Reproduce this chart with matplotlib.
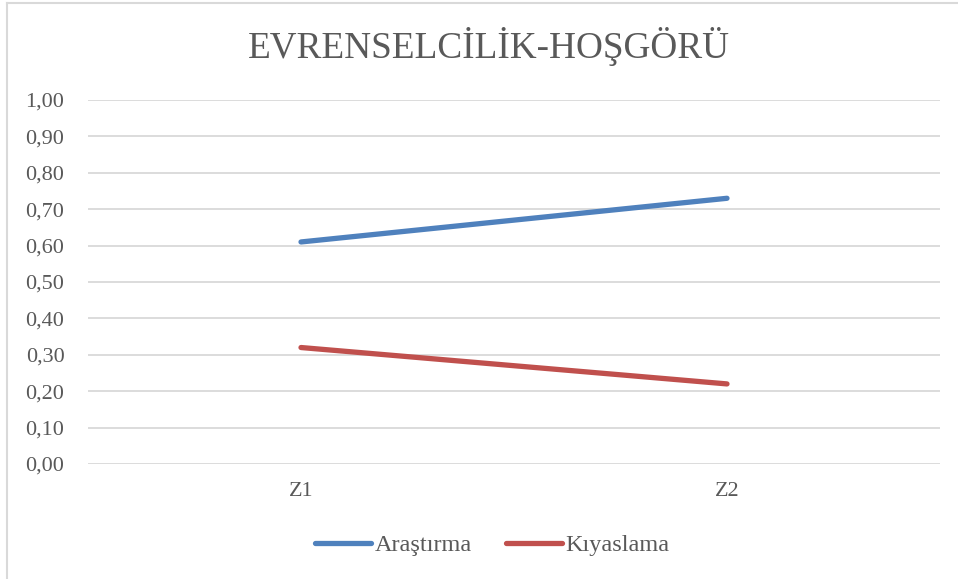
import matplotlib
matplotlib.use("Agg")
import matplotlib.pyplot as plt
from matplotlib.lines import Line2D
from matplotlib.ticker import FuncFormatter

title = "EVRENSELCİLİK-HOŞGÖRÜ"
categories = ["Z1", "Z2"]
series_names = ["Araştırma", "Kıyaslama"]
arastirma = [0.61, 0.73]
kiyaslama = [0.32, 0.22]
y_ticks = [0.0, 0.1, 0.2, 0.3, 0.4, 0.5, 0.6, 0.7, 0.8, 0.9, 1.0]

colors = ["#4F81BD", "#C0504D"]
text_color = "#595959"
grid_color = "#D9D9D9"

plt.rcParams['font.family'] = ['Liberation Serif', 'DejaVu Serif']

fig = plt.figure(figsize=(9.58, 5.79), dpi=100)
ax = fig.add_axes([88/958, 1 - 464/579, (940-88)/958, (464-100)/579])

x = list(range(len(categories)))
for vals, c in zip([arastirma, kiyaslama], colors):
    ax.plot(x, vals, color=c, lw=3.8, solid_capstyle='round', zorder=3)

ax.set_xlim(-0.5, len(categories) - 0.5)
ax.set_ylim(0, 1.0)
ax.set_yticks(y_ticks)
ax.yaxis.set_major_formatter(FuncFormatter(lambda v, p: f"{v:.2f}".replace(".", ",")))
ax.set_xticks(x)
ax.set_xticklabels(categories)
ax.tick_params(axis='both', length=0, labelsize=16, colors=text_color)
ax.tick_params(axis='y', pad=17)
ax.tick_params(axis='x', pad=13)
ax.grid(axis='y', color=grid_color, lw=1.3, zorder=0)
for s in ax.spines.values():
    s.set_visible(False)

fig.text(489/958, 1 - 47/579, title, ha='center', va='center', fontsize=26.8, color=text_color)

handles = [Line2D([0], [0], color=c, lw=3.8, solid_capstyle='round') for c in colors]
fig.legend(handles, series_names, loc='center', bbox_to_anchor=(0.514, 1 - 545/579),
           ncol=2, frameon=False, fontsize=17.5, handlelength=2.3, handletextpad=0.15,
           columnspacing=1.4, labelcolor=text_color)

# chart border (left and top)
fig.add_artist(Line2D([7/958, 7/958], [0, 1 - 3/579], color=grid_color, lw=1.5))
fig.add_artist(Line2D([7/958, 1], [1 - 3/579, 1 - 3/579], color=grid_color, lw=1.5))

fig.savefig("out.png", dpi=100)
